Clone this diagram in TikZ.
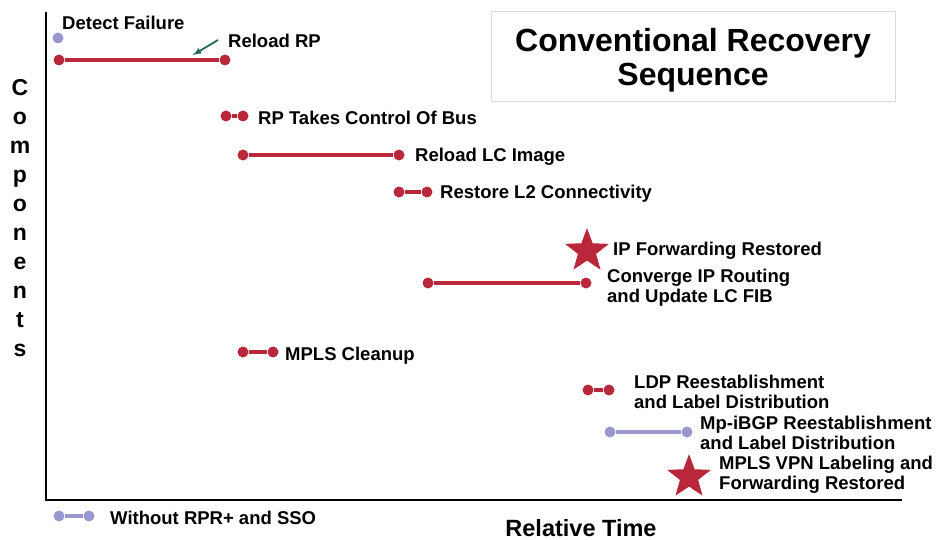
\documentclass[tikz,border=0pt]{standalone}
\usepackage{fontspec}
\setmainfont{Liberation Sans}
\usetikzlibrary{shapes.geometric,arrows}
\definecolor{barred}{RGB}{184,40,58}
\definecolor{barblue}{RGB}{152,152,206}
\definecolor{arrteal}{RGB}{38,104,92}
\tikzset{
  rdot/.style={circle,fill=barred,inner sep=0pt,minimum size=11pt},
  bdot/.style={circle,fill=barblue,inner sep=0pt,minimum size=11pt},
  rbar/.style={draw=barred,line width=3.5pt},
  bbar/.style={draw=barblue,line width=3.5pt},
  lbl/.style={anchor=west,align=left,inner sep=0pt,font=\fontsize{18.5}{20}\selectfont\bfseries},
  rstar/.style={star,star points=5,star point ratio=2.4,fill=barred,inner sep=0pt,minimum size=46pt}
}

\begin{document}
\begin{tikzpicture}[x=1pt,y=1pt]
\useasboundingbox (0,0) rectangle (937,-540);

% axes
\coordinate (Ytop) at (46,-12);
\coordinate (O) at (46,-500);
\coordinate (Xend) at (902,-500);
\draw[line width=2pt] (Ytop) -- (O) -- (Xend);

\node[font=\fontsize{23}{29}\selectfont\bfseries,align=center] (Yl) at (20,-218) {C\\o\\m\\p\\o\\n\\e\\n\\t\\s};
\node[inner sep=0pt,font=\fontsize{23.5}{26}\selectfont\bfseries] (Xl) at (581,-528) {Relative Time};

% title
\node[draw=black!15,line width=1pt,minimum width=404,minimum height=90] (T) at (693,-57) {};
\node[align=center,font=\fontsize{32}{34}\selectfont\bfseries] (Tt) at (693,-60) {Conventional Recovery\\Sequence};

% bars
\node[bdot] (D1) at (58,-38) {};
\node[rdot] (R1) at (59,-60) {};
\node[rdot] (R2) at (225,-60) {};
\node[rdot] (B1) at (226,-116) {};
\node[rdot] (B2) at (243,-116) {};
\node[rdot] (L1) at (243,-155) {};
\node[rdot] (L2) at (399,-155) {};
\node[rdot] (C1) at (399,-192) {};
\node[rdot] (C2) at (427,-192) {};
\node[rstar] (S1) at (587,-251) {};
\node[rdot] (F1) at (428,-283) {};
\node[rdot] (F2) at (586,-283) {};
\node[rdot] (M1) at (243,-352) {};
\node[rdot] (M2) at (273,-352) {};
\node[rdot] (P1) at (588,-390) {};
\node[rdot] (P2) at (609,-390) {};
\node[bdot] (G1) at (610,-432) {};
\node[bdot] (G2) at (687,-432) {};
\node[rstar] (S2) at (689,-477) {};
\node[bdot] (W1) at (59,-516) {};
\node[bdot] (W2) at (89,-516) {};

\path[rbar] (R1) edge [] node[]{} (R2);
\path[rbar] (B1) edge [] node[]{} (B2);
\path[rbar] (L1) edge [] node[]{} (L2);
\path[rbar] (C1) edge [] node[]{} (C2);
\path[rbar] (F1) edge [] node[]{} (F2);
\path[rbar] (M1) edge [] node[]{} (M2);
\path[rbar] (P1) edge [] node[]{} (P2);
\path[bbar] (G1) edge [] node[]{} (G2);
\path[bbar] (W1) edge [] node[]{} (W2);

\coordinate (A1) at (218,-40);
\coordinate (A2) at (193,-55);
\draw[->, >=latex,arrteal,line width=1.8pt] (A1) -- (A2);

% labels
\node[lbl] at (62,-23) {Detect Failure};
\node[lbl] at (228,-41) {Reload RP};
\node[lbl] at (258,-118) {RP Takes Control Of Bus};
\node[lbl] at (415,-157) {Reload LC Image};
\node[lbl] at (440,-194) {Restore L2 Connectivity};
\node[lbl] at (613,-251) {IP Forwarding Restored};
\node[lbl] at (607,-288) {Converge IP Routing\\and Update LC FIB};
\node[lbl] at (285,-356) {MPLS Cleanup};
\node[lbl] at (634,-392) {LDP Reestablishment\\and Label Distribution};
\node[lbl] at (700,-433) {Mp-iBGP Reestablishment\\and Label Distribution};
\node[lbl] at (719,-475) {MPLS VPN Labeling and\\Forwarding Restored};
\node[lbl] at (110,-518) {Without RPR+ and SSO};
\end{tikzpicture}
\end{document}
